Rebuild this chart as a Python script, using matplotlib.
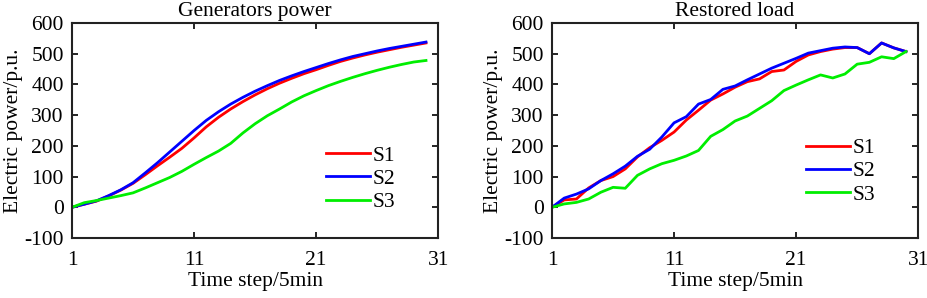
import matplotlib
matplotlib.use("Agg")
import matplotlib.pyplot as plt

steps = list(range(1, 31))

gen_s1 = [0, 10, 20, 37, 56, 78, 106, 135, 163, 192, 226, 262, 293, 320, 344,
          366, 386, 404, 420, 435, 448, 462, 475, 486, 496, 505, 513, 521, 528, 535]
gen_s2 = [0, 10, 21, 38, 57, 80, 112, 145, 180, 215, 250, 283, 311, 336, 358,
          378, 396, 413, 428, 442, 455, 468, 480, 491, 500, 509, 517, 524, 531, 538]
gen_s3 = [0, 15, 22, 30, 38, 47, 63, 80, 97, 117, 140, 162, 183, 208, 242,
          272, 298, 320, 343, 363, 380, 396, 410, 423, 435, 446, 456, 465, 473, 478]

load_s1 = [0, 24, 27, 63, 87, 100, 125, 164, 194, 218, 245, 284, 316, 349, 369,
           391, 409, 418, 442, 447, 475, 496, 507, 515, 520, 520, 500, 535, 519, 507]
load_s2 = [0, 30, 43, 60, 87, 109, 134, 166, 189, 229, 275, 295, 336, 351, 384,
           395, 415, 434, 453, 469, 485, 502, 510, 518, 522, 520, 500, 535, 519, 507]
load_s3 = [0, 11, 16, 27, 49, 65, 62, 104, 125, 142, 153, 167, 185, 231, 253,
           281, 297, 322, 347, 380, 398, 415, 431, 421, 434, 466, 472, 490, 484, 507]

titles = ["Generators power", "Restored load"]
series_labels = ["S1", "S2", "S3"]
colors = ["#ff0000", "#0000ff", "#00ee00"]
xticks = [1, 11, 21, 31]
yticks = [-100, 0, 100, 200, 300, 400, 500, 600]

plt.rcParams['font.family'] = ['Liberation Serif', 'DejaVu Serif']
plt.rcParams['axes.unicode_minus'] = False

FS = 15.5

fig = plt.figure(figsize=(9.27, 2.98), dpi=100)
ax1 = fig.add_axes([0.0777, 0.2013, 0.395, 0.7215])
ax2 = fig.add_axes([0.5955, 0.2013, 0.395, 0.7215])

datasets = [(gen_s1, gen_s2, gen_s3), (load_s1, load_s2, load_s3)]
legend_pos = [(0.67, 0.47), (0.67, 0.505)]

for ax, title, data, lpos in zip([ax1, ax2], titles, datasets, legend_pos):
    for vals, lab, c in zip(data, series_labels, colors):
        ax.plot(steps, vals, color=c, lw=2.0, label=lab)
    ax.set_xlim(1, 31)
    ax.set_ylim(-100, 600)
    ax.set_xticks(xticks)
    ax.set_yticks(yticks)
    ax.tick_params(axis='x', direction='in', top=True, labelsize=FS,
                   length=4, width=1.2, pad=9)
    ax.tick_params(axis='y', direction='in', right=True, labelsize=FS,
                   length=4, width=1.2, pad=6)
    for s in ax.spines.values():
        s.set_linewidth(1.5)
        s.set_color('#222222')
    ax.set_title(title, fontsize=FS, pad=5)
    ax.set_xlabel("Time step/5min", fontsize=FS, labelpad=2)
    ax.set_ylabel("Electric power/p.u.", fontsize=FS, labelpad=1)
    ax.legend(loc='upper left', bbox_to_anchor=lpos, frameon=False,
              fontsize=FS, handlelength=2.05, handletextpad=0.1,
              labelspacing=0.15, borderaxespad=0)

fig.savefig("out.png", dpi=100)
